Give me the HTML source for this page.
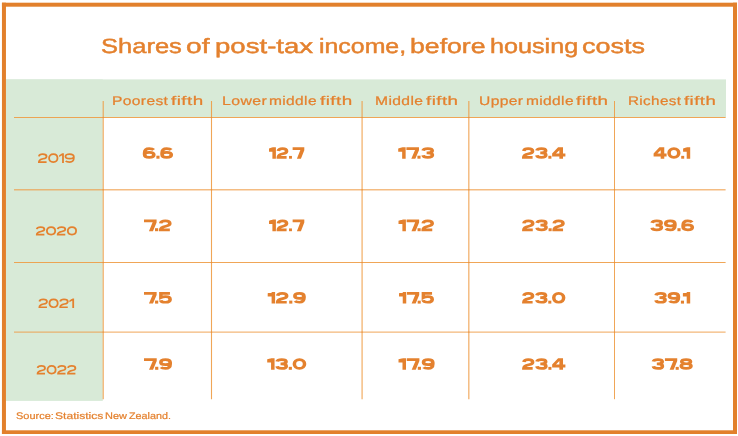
<!DOCTYPE html>
<html><head><meta charset="utf-8"><style>
html,body{margin:0;padding:0;background:#fff;width:738px;height:436px;overflow:hidden}
body{position:relative;font-family:"Liberation Sans",sans-serif}
.t{position:absolute;white-space:nowrap;color:#E4812E;transform-origin:0 0;will-change:transform;text-rendering:geometricPrecision}
.h{color:transparent}
</style></head><body>
<svg width="738" height="436" viewBox="0 0 738 436" style="position:absolute;left:0;top:0">
<rect x="6" y="79.4" width="720" height="38" fill="#D8EAD7"/>
<rect x="6" y="79.4" width="96.8" height="321.5" fill="#D8EAD7"/>
<line x1="14" y1="117.5" x2="725.6" y2="117.5" stroke="#EE9C45" stroke-width="1" stroke-opacity="0.900"/><line x1="14" y1="189.75" x2="725.6" y2="189.75" stroke="#EE9C45" stroke-width="1.5" stroke-opacity="0.675"/><line x1="14" y1="262.5" x2="725.6" y2="262.5" stroke="#EE9C45" stroke-width="1" stroke-opacity="0.900"/><line x1="14" y1="332.1" x2="725.6" y2="332.1" stroke="#EE9C45" stroke-width="1.4" stroke-opacity="0.720"/><line x1="103.2" y1="101" x2="103.2" y2="399.2" stroke="#EE9C45" stroke-width="1.1" stroke-opacity="0.900"/><line x1="211.5" y1="101" x2="211.5" y2="399.2" stroke="#EE9C45" stroke-width="1.1" stroke-opacity="0.900"/><line x1="362.1" y1="101" x2="362.1" y2="399.2" stroke="#EE9C45" stroke-width="1.4" stroke-opacity="0.720"/><line x1="468.8" y1="101" x2="468.8" y2="399.2" stroke="#EE9C45" stroke-width="1.4" stroke-opacity="0.720"/><line x1="614.5" y1="101" x2="614.5" y2="399.2" stroke="#EE9C45" stroke-width="1" stroke-opacity="0.900"/><rect x="102.60" y="116.90" width="1.2" height="1.2" fill="#E4812E" fill-opacity="0.45"/><rect x="210.90" y="116.90" width="1.2" height="1.2" fill="#E4812E" fill-opacity="0.45"/><rect x="361.50" y="116.90" width="1.2" height="1.2" fill="#E4812E" fill-opacity="0.45"/><rect x="468.20" y="116.90" width="1.2" height="1.2" fill="#E4812E" fill-opacity="0.45"/><rect x="613.90" y="116.90" width="1.2" height="1.2" fill="#E4812E" fill-opacity="0.45"/><rect x="102.60" y="189.15" width="1.2" height="1.2" fill="#E4812E" fill-opacity="0.45"/><rect x="210.90" y="189.15" width="1.2" height="1.2" fill="#E4812E" fill-opacity="0.45"/><rect x="361.50" y="189.15" width="1.2" height="1.2" fill="#E4812E" fill-opacity="0.45"/><rect x="468.20" y="189.15" width="1.2" height="1.2" fill="#E4812E" fill-opacity="0.45"/><rect x="613.90" y="189.15" width="1.2" height="1.2" fill="#E4812E" fill-opacity="0.45"/><rect x="102.60" y="261.90" width="1.2" height="1.2" fill="#E4812E" fill-opacity="0.45"/><rect x="210.90" y="261.90" width="1.2" height="1.2" fill="#E4812E" fill-opacity="0.45"/><rect x="361.50" y="261.90" width="1.2" height="1.2" fill="#E4812E" fill-opacity="0.45"/><rect x="468.20" y="261.90" width="1.2" height="1.2" fill="#E4812E" fill-opacity="0.45"/><rect x="613.90" y="261.90" width="1.2" height="1.2" fill="#E4812E" fill-opacity="0.45"/><rect x="102.60" y="331.50" width="1.2" height="1.2" fill="#E4812E" fill-opacity="0.45"/><rect x="210.90" y="331.50" width="1.2" height="1.2" fill="#E4812E" fill-opacity="0.45"/><rect x="361.50" y="331.50" width="1.2" height="1.2" fill="#E4812E" fill-opacity="0.45"/><rect x="468.20" y="331.50" width="1.2" height="1.2" fill="#E4812E" fill-opacity="0.45"/><rect x="613.90" y="331.50" width="1.2" height="1.2" fill="#E4812E" fill-opacity="0.45"/>
</svg>
<span class="t" style="left:100.61px;top:37.20px;font-size:20.6px;line-height:20.6px;font-weight:400;-webkit-text-stroke:0.45px #E4812E;transform:scaleX(1.2393)">Shares</span><span class="t" style="left:186.28px;top:37.20px;font-size:20.6px;line-height:20.6px;font-weight:400;-webkit-text-stroke:0.45px #E4812E;transform:scaleX(1.3679)">of</span><span class="t" style="left:215.16px;top:37.20px;font-size:20.6px;line-height:20.6px;font-weight:400;-webkit-text-stroke:0.45px #E4812E;transform:scaleX(1.3392)">post-tax</span><span class="t" style="left:318.67px;top:37.20px;font-size:20.6px;line-height:20.6px;font-weight:400;-webkit-text-stroke:0.45px #E4812E;transform:scaleX(1.2077)">income,</span><span class="t" style="left:409.88px;top:37.20px;font-size:20.6px;line-height:20.6px;font-weight:400;-webkit-text-stroke:0.45px #E4812E;transform:scaleX(1.2938)">before</span><span class="t" style="left:489.62px;top:37.20px;font-size:20.6px;line-height:20.6px;font-weight:400;-webkit-text-stroke:0.45px #E4812E;transform:scaleX(1.2230)">housing</span><span class="t" style="left:582.49px;top:37.20px;font-size:20.6px;line-height:20.6px;font-weight:400;-webkit-text-stroke:0.45px #E4812E;transform:scaleX(1.3104)">costs</span><span class="t" style="left:111.81px;top:94.56px;font-size:12.5px;line-height:12.5px;font-weight:400;letter-spacing:0.3px;-webkit-text-stroke:0.22px #E4812E;transform:scaleX(1.2457)">Poorest</span><span class="t" style="left:171.41px;top:94.56px;font-size:12.5px;line-height:12.5px;font-weight:400;letter-spacing:0.3px;-webkit-text-stroke:0.22px #E4812E;transform:scaleX(1.5061)">fifth</span><span class="t" style="left:221.59px;top:94.56px;font-size:12.5px;line-height:12.5px;font-weight:400;letter-spacing:0.3px;-webkit-text-stroke:0.22px #E4812E;transform:scaleX(1.2685)">Lower</span><span class="t" style="left:268.97px;top:94.56px;font-size:12.5px;line-height:12.5px;font-weight:400;letter-spacing:0.3px;-webkit-text-stroke:0.22px #E4812E;transform:scaleX(1.2411)">middle</span><span class="t" style="left:319.61px;top:94.56px;font-size:12.5px;line-height:12.5px;font-weight:400;letter-spacing:0.3px;-webkit-text-stroke:0.22px #E4812E;transform:scaleX(1.5110)">fifth</span><span class="t" style="left:374.61px;top:94.56px;font-size:12.5px;line-height:12.5px;font-weight:400;letter-spacing:0.3px;-webkit-text-stroke:0.22px #E4812E;transform:scaleX(1.2506)">Middle</span><span class="t" style="left:425.51px;top:94.56px;font-size:12.5px;line-height:12.5px;font-weight:400;letter-spacing:0.3px;-webkit-text-stroke:0.22px #E4812E;transform:scaleX(1.5012)">fifth</span><span class="t" style="left:478.56px;top:94.56px;font-size:12.5px;line-height:12.5px;font-weight:400;letter-spacing:0.3px;-webkit-text-stroke:0.22px #E4812E;transform:scaleX(1.2492)">Upper</span><span class="t" style="left:525.97px;top:94.56px;font-size:12.5px;line-height:12.5px;font-weight:400;letter-spacing:0.3px;-webkit-text-stroke:0.22px #E4812E;transform:scaleX(1.2411)">middle</span><span class="t" style="left:576.21px;top:94.56px;font-size:12.5px;line-height:12.5px;font-weight:400;letter-spacing:0.3px;-webkit-text-stroke:0.22px #E4812E;transform:scaleX(1.5012)">fifth</span><span class="t" style="left:627.64px;top:94.56px;font-size:12.5px;line-height:12.5px;font-weight:400;letter-spacing:0.3px;-webkit-text-stroke:0.22px #E4812E;transform:scaleX(1.2180)">Richest</span><span class="t" style="left:684.32px;top:94.56px;font-size:12.5px;line-height:12.5px;font-weight:400;letter-spacing:0.3px;-webkit-text-stroke:0.22px #E4812E;transform:scaleX(1.4864)">fifth</span><span class="t" style="left:16.04px;top:412.25px;font-size:9.5px;line-height:9.5px;font-weight:400;-webkit-text-stroke:0.2px #E4812E;transform:scaleX(1.1547)">Source:</span><span class="t" style="left:54.97px;top:412.25px;font-size:9.5px;line-height:9.5px;font-weight:400;-webkit-text-stroke:0.2px #E4812E;transform:scaleX(1.2718)">Statistics</span><span class="t" style="left:105.38px;top:412.25px;font-size:9.5px;line-height:9.5px;font-weight:400;-webkit-text-stroke:0.2px #E4812E;transform:scaleX(1.1538)">New</span><span class="t" style="left:129.41px;top:412.25px;font-size:9.5px;line-height:9.5px;font-weight:400;-webkit-text-stroke:0.2px #E4812E;transform:scaleX(1.1337)">Zealand.</span>
<svg width="738" height="436" viewBox="0 0 738 436" style="position:absolute;left:0;top:0" aria-hidden="true"><g transform="translate(38.000,153.300) scale(1.1250,1)"><path d="M0.800,2.960 C1.073,1.360 2.507,0.800 4.214,0.800 C6.262,0.800 7.627,1.520 7.627,3.120 C7.627,4.560 6.398,5.120 4.555,5.520 C2.302,6.000 0.800,6.880 0.800,8.800 L7.627,8.800" fill="none" stroke="#E4812E" stroke-width="1.6" stroke-linejoin="miter" stroke-miterlimit="3" stroke-linecap="butt"/></g><g transform="translate(48.194,153.300) scale(1.1250,1)"><path d="M4.531,0.800 L4.531,0.800 C6.769,0.800 8.262,2.400 8.262,4.800 L8.262,4.800 C8.262,7.200 6.769,8.800 4.531,8.800 L4.531,8.800 C2.292,8.800 0.800,7.200 0.800,4.800 L0.800,4.800 C0.800,2.400 2.292,0.800 4.531,0.800 Z" fill="none" stroke="#E4812E" stroke-width="1.6" stroke-linejoin="miter" stroke-miterlimit="3" stroke-linecap="butt"/></g><path d="M62.094,153.300 L63.894,153.300 L63.894,162.900 L62.094,162.900 Z M59.102,155.220 L62.194,153.300 L62.194,155.140 L59.102,157.060 Z" fill="#E4812E"/><g transform="translate(64.608,153.300) scale(1.1250,1)"><path d="M0.947,7.680 C1.685,8.560 3.011,8.800 4.486,8.800 C6.918,8.800 8.171,7.600 8.171,4.800 L8.171,3.520 M8.171,3.520 C8.171,1.600 6.697,0.800 4.486,0.800 C2.274,0.800 0.800,1.600 0.800,3.120 C0.800,4.640 2.274,5.360 4.486,5.360 C6.697,5.360 8.171,4.640 8.171,3.200" fill="none" stroke="#E4812E" stroke-width="1.6" stroke-linejoin="miter" stroke-miterlimit="3" stroke-linecap="butt"/></g><g transform="translate(35.900,226.300) scale(1.1250,1)"><path d="M0.800,2.825 C1.070,1.325 2.487,0.800 4.174,0.800 C6.198,0.800 7.548,1.475 7.548,2.975 C7.548,4.325 6.333,4.850 4.511,5.225 C2.285,5.675 0.800,6.500 0.800,8.300 L7.548,8.300" fill="none" stroke="#E4812E" stroke-width="1.6" stroke-linejoin="miter" stroke-miterlimit="3" stroke-linecap="butt"/></g><g transform="translate(45.998,226.300) scale(1.1250,1)"><path d="M4.488,0.800 L4.488,0.800 C6.701,0.800 8.176,2.300 8.176,4.550 L8.176,4.550 C8.176,6.800 6.701,8.300 4.488,8.300 L4.488,8.300 C2.275,8.300 0.800,6.800 0.800,4.550 L0.800,4.550 C0.800,2.300 2.275,0.800 4.488,0.800 Z" fill="none" stroke="#E4812E" stroke-width="1.6" stroke-linejoin="miter" stroke-miterlimit="3" stroke-linecap="butt"/></g><g transform="translate(56.803,226.300) scale(1.1250,1)"><path d="M0.800,2.825 C1.070,1.325 2.487,0.800 4.174,0.800 C6.198,0.800 7.548,1.475 7.548,2.975 C7.548,4.325 6.333,4.850 4.511,5.225 C2.285,5.675 0.800,6.500 0.800,8.300 L7.548,8.300" fill="none" stroke="#E4812E" stroke-width="1.6" stroke-linejoin="miter" stroke-miterlimit="3" stroke-linecap="butt"/></g><g transform="translate(66.902,226.300) scale(1.1250,1)"><path d="M4.488,0.800 L4.488,0.800 C6.701,0.800 8.176,2.300 8.176,4.550 L8.176,4.550 C8.176,6.800 6.701,8.300 4.488,8.300 L4.488,8.300 C2.275,8.300 0.800,6.800 0.800,4.550 L0.800,4.550 C0.800,2.300 2.275,0.800 4.488,0.800 Z" fill="none" stroke="#E4812E" stroke-width="1.6" stroke-linejoin="miter" stroke-miterlimit="3" stroke-linecap="butt"/></g><g transform="translate(38.500,298.600) scale(1.1250,1)"><path d="M0.800,2.906 C1.069,1.346 2.478,0.800 4.157,0.800 C6.171,0.800 7.513,1.502 7.513,3.062 C7.513,4.466 6.305,5.012 4.492,5.402 C2.277,5.870 0.800,6.728 0.800,8.600 L7.513,8.600" fill="none" stroke="#E4812E" stroke-width="1.6" stroke-linejoin="miter" stroke-miterlimit="3" stroke-linecap="butt"/></g><g transform="translate(48.556,298.600) scale(1.1250,1)"><path d="M4.470,0.800 L4.470,0.800 C6.671,0.800 8.139,2.360 8.139,4.700 L8.139,4.700 C8.139,7.040 6.671,8.600 4.470,8.600 L4.470,8.600 C2.268,8.600 0.800,7.040 0.800,4.700 L0.800,4.700 C0.800,2.360 2.268,0.800 4.470,0.800 Z" fill="none" stroke="#E4812E" stroke-width="1.6" stroke-linejoin="miter" stroke-miterlimit="3" stroke-linecap="butt"/></g><g transform="translate(59.317,298.600) scale(1.1250,1)"><path d="M0.800,2.906 C1.069,1.346 2.478,0.800 4.157,0.800 C6.171,0.800 7.513,1.502 7.513,3.062 C7.513,4.466 6.305,5.012 4.492,5.402 C2.277,5.870 0.800,6.728 0.800,8.600 L7.513,8.600" fill="none" stroke="#E4812E" stroke-width="1.6" stroke-linejoin="miter" stroke-miterlimit="3" stroke-linecap="butt"/></g><path d="M72.300,298.600 L74.100,298.600 L74.100,308.000 L72.300,308.000 Z M69.373,300.480 L72.400,298.600 L72.400,300.440 L69.373,302.320 Z" fill="#E4812E"/><g transform="translate(36.700,365.100) scale(1.1250,1)"><path d="M0.800,2.879 C1.063,1.339 2.446,0.800 4.092,0.800 C6.067,0.800 7.384,1.493 7.384,3.033 C7.384,4.419 6.199,4.958 4.421,5.343 C2.248,5.805 0.800,6.652 0.800,8.500 L7.384,8.500" fill="none" stroke="#E4812E" stroke-width="1.6" stroke-linejoin="miter" stroke-miterlimit="3" stroke-linecap="butt"/></g><g transform="translate(46.600,365.100) scale(1.1250,1)"><path d="M4.400,0.800 L4.400,0.800 C6.560,0.800 8.000,2.340 8.000,4.650 L8.000,4.650 C8.000,6.960 6.560,8.500 4.400,8.500 L4.400,8.500 C2.240,8.500 0.800,6.960 0.800,4.650 L0.800,4.650 C0.800,2.340 2.240,0.800 4.400,0.800 Z" fill="none" stroke="#E4812E" stroke-width="1.6" stroke-linejoin="miter" stroke-miterlimit="3" stroke-linecap="butt"/></g><g transform="translate(57.193,365.100) scale(1.1250,1)"><path d="M0.800,2.879 C1.063,1.339 2.446,0.800 4.092,0.800 C6.067,0.800 7.384,1.493 7.384,3.033 C7.384,4.419 6.199,4.958 4.421,5.343 C2.248,5.805 0.800,6.652 0.800,8.500 L7.384,8.500" fill="none" stroke="#E4812E" stroke-width="1.6" stroke-linejoin="miter" stroke-miterlimit="3" stroke-linecap="butt"/></g><g transform="translate(67.093,365.100) scale(1.1250,1)"><path d="M0.800,2.879 C1.063,1.339 2.446,0.800 4.092,0.800 C6.067,0.800 7.384,1.493 7.384,3.033 C7.384,4.419 6.199,4.958 4.421,5.343 C2.248,5.805 0.800,6.652 0.800,8.500 L7.384,8.500" fill="none" stroke="#E4812E" stroke-width="1.6" stroke-linejoin="miter" stroke-miterlimit="3" stroke-linecap="butt"/></g><g transform="translate(142.800,147.300) scale(1.2963,1)"><path d="M8.408,2.568 C7.687,1.611 6.391,1.350 4.951,1.350 C2.574,1.350 1.350,2.655 1.350,5.700 L1.350,7.092 M1.350,7.092 C1.350,9.180 2.790,10.050 4.951,10.050 C7.111,10.050 8.552,9.180 8.552,7.527 C8.552,5.874 7.111,5.091 4.951,5.091 C2.790,5.091 1.350,5.874 1.350,7.440" fill="none" stroke="#E4812E" stroke-width="2.7" stroke-linejoin="miter" stroke-miterlimit="3" stroke-linecap="butt"/></g><rect x="156.372" y="155.702" width="3.156" height="2.998" fill="#E4812E"/><g transform="translate(160.265,147.300) scale(1.2963,1)"><path d="M8.408,2.568 C7.687,1.611 6.391,1.350 4.951,1.350 C2.574,1.350 1.350,2.655 1.350,5.700 L1.350,7.092 M1.350,7.092 C1.350,9.180 2.790,10.050 4.951,10.050 C7.111,10.050 8.552,9.180 8.552,7.527 C8.552,5.874 7.111,5.091 4.951,5.091 C2.790,5.091 1.350,5.874 1.350,7.440" fill="none" stroke="#E4812E" stroke-width="2.7" stroke-linejoin="miter" stroke-miterlimit="3" stroke-linecap="butt"/></g><path d="M272.404,147.300 L275.904,147.300 L275.904,158.700 L272.404,158.700 Z M269.000,148.440 L272.604,147.300 L272.604,151.404 L269.000,151.632 Z" fill="#E4812E"/><g transform="translate(276.585,147.300) scale(1.2963,1)"><path d="M1.350,3.699 C1.605,1.959 2.944,1.350 4.539,1.350 C6.452,1.350 7.727,2.133 7.727,3.873 C7.727,5.439 6.579,6.048 4.857,6.483 C2.753,7.005 1.350,7.962 1.350,10.050 L7.727,10.050" fill="none" stroke="#E4812E" stroke-width="2.7" stroke-linejoin="miter" stroke-miterlimit="3" stroke-linecap="butt"/></g><rect x="289.033" y="155.929" width="2.917" height="2.771" fill="#E4812E"/><path d="M292.631,147.300 L304.300,147.300 L304.300,150.200 L300.916,158.700 L296.891,158.700 L300.355,150.000 L292.631,150.000 Z" fill="#E4812E"/><path d="M402.152,147.300 L405.652,147.300 L405.652,158.700 L402.152,158.700 Z M398.200,148.440 L402.352,147.300 L402.352,151.404 L398.200,151.632 Z" fill="#E4812E"/><path d="M406.387,147.300 L418.981,147.300 L418.981,150.200 L415.329,158.700 L411.304,158.700 L415.042,150.000 L406.387,150.000 Z" fill="#E4812E"/><rect x="417.407" y="155.709" width="3.149" height="2.991" fill="#E4812E"/><g transform="translate(421.290,147.300) scale(1.2963,1)"><path d="M1.350,3.264 C1.713,1.785 3.165,1.350 4.979,1.350 C7.157,1.350 8.464,1.959 8.464,3.438 C8.464,4.917 7.157,5.526 4.979,5.526 L4.108,5.526 M4.979,5.526 C7.302,5.526 8.609,6.222 8.609,7.788 C8.609,9.354 7.157,10.050 4.979,10.050 C3.092,10.050 1.640,9.528 1.350,7.962" fill="none" stroke="#E4812E" stroke-width="2.7" stroke-linejoin="miter" stroke-miterlimit="3" stroke-linecap="butt"/></g><g transform="translate(522.000,147.300) scale(1.2963,1)"><path d="M1.350,3.699 C1.623,1.959 3.058,1.350 4.766,1.350 C6.816,1.350 8.182,2.133 8.182,3.873 C8.182,5.439 6.952,6.048 5.108,6.483 C2.853,7.005 1.350,7.962 1.350,10.050 L8.182,10.050" fill="none" stroke="#E4812E" stroke-width="2.7" stroke-linejoin="miter" stroke-miterlimit="3" stroke-linecap="butt"/></g><g transform="translate(535.071,147.300) scale(1.2963,1)"><path d="M1.350,3.264 C1.699,1.785 3.097,1.350 4.845,1.350 C6.942,1.350 8.200,1.959 8.200,3.438 C8.200,4.917 6.942,5.526 4.845,5.526 L4.006,5.526 M4.845,5.526 C7.081,5.526 8.340,6.222 8.340,7.788 C8.340,9.354 6.942,10.050 4.845,10.050 C3.027,10.050 1.630,9.528 1.350,7.962" fill="none" stroke="#E4812E" stroke-width="2.7" stroke-linejoin="miter" stroke-miterlimit="3" stroke-linecap="butt"/></g><rect x="548.346" y="155.790" width="3.064" height="2.910" fill="#E4812E"/><path fill-rule="evenodd" d="M558.099,147.300 L563.010,147.300 L563.010,153.570 L565.400,153.570 L565.400,156.420 L563.010,156.420 L563.010,158.700 L559.360,158.700 L559.360,156.420 L552.125,156.420 L552.125,153.570 Z M559.360,150.150 L559.360,153.570 L555.975,153.570 Z" fill="#E4812E"/><path fill-rule="evenodd" d="M659.450,147.300 L664.260,147.300 L664.260,153.570 L666.600,153.570 L666.600,156.420 L664.260,156.420 L664.260,158.700 L660.685,158.700 L660.685,156.420 L653.600,156.420 L653.600,153.570 Z M660.685,150.150 L660.685,153.570 L657.370,153.570 Z" fill="#E4812E"/><g transform="translate(667.300,147.300) scale(1.2963,1)"><path d="M5.091,1.350 L5.091,1.350 C7.336,1.350 8.833,3.090 8.833,5.700 L8.833,5.700 C8.833,8.310 7.336,10.050 5.091,10.050 L5.091,10.050 C2.847,10.050 1.350,8.310 1.350,5.700 L1.350,5.700 C1.350,3.090 2.847,1.350 5.091,1.350 Z" fill="none" stroke="#E4812E" stroke-width="2.7" stroke-linejoin="miter" stroke-miterlimit="3" stroke-linecap="butt"/></g><rect x="681.200" y="155.850" width="3.000" height="2.850" fill="#E4812E"/><path d="M686.700,147.300 L690.200,147.300 L690.200,158.700 L686.700,158.700 Z M683.100,148.440 L686.900,147.300 L686.900,151.404 L683.100,151.632 Z" fill="#E4812E"/><path d="M144.000,219.600 L156.593,219.600 L156.593,222.500 L152.941,231.200 L148.916,231.200 L152.652,222.300 L144.000,222.300 Z" fill="#E4812E"/><rect x="155.019" y="228.209" width="3.148" height="2.991" fill="#E4812E"/><g transform="translate(158.902,219.600) scale(1.2963,1)"><path d="M1.350,3.753 C1.634,1.973 3.124,1.350 4.898,1.350 C7.027,1.350 8.446,2.151 8.446,3.931 C8.446,5.533 7.168,6.156 5.253,6.601 C2.911,7.135 1.350,8.114 1.350,10.250 L8.446,10.250" fill="none" stroke="#E4812E" stroke-width="2.7" stroke-linejoin="miter" stroke-miterlimit="3" stroke-linecap="butt"/></g><path d="M272.404,219.600 L275.904,219.600 L275.904,231.200 L272.404,231.200 Z M269.000,220.760 L272.604,219.600 L272.604,223.776 L269.000,224.008 Z" fill="#E4812E"/><g transform="translate(276.585,219.600) scale(1.2963,1)"><path d="M1.350,3.753 C1.605,1.973 2.944,1.350 4.539,1.350 C6.452,1.350 7.727,2.151 7.727,3.931 C7.727,5.533 6.579,6.156 4.857,6.601 C2.753,7.135 1.350,8.114 1.350,10.250 L7.727,10.250" fill="none" stroke="#E4812E" stroke-width="2.7" stroke-linejoin="miter" stroke-miterlimit="3" stroke-linecap="butt"/></g><rect x="289.033" y="228.429" width="2.917" height="2.771" fill="#E4812E"/><path d="M292.631,219.600 L304.300,219.600 L304.300,222.500 L300.916,231.200 L296.891,231.200 L300.353,222.300 L292.631,222.300 Z" fill="#E4812E"/><path d="M402.391,219.600 L405.891,219.600 L405.891,231.200 L402.391,231.200 Z M398.500,220.760 L402.591,219.600 L402.591,223.776 L398.500,224.008 Z" fill="#E4812E"/><path d="M406.620,219.600 L419.113,219.600 L419.113,222.500 L415.490,231.200 L411.465,231.200 L415.171,222.300 L406.620,222.300 Z" fill="#E4812E"/><rect x="417.551" y="228.233" width="3.123" height="2.967" fill="#E4812E"/><g transform="translate(421.403,219.600) scale(1.2963,1)"><path d="M1.350,3.753 C1.631,1.973 3.104,1.350 4.859,1.350 C6.964,1.350 8.368,2.151 8.368,3.931 C8.368,5.533 7.104,6.156 5.210,6.601 C2.894,7.135 1.350,8.114 1.350,10.250 L8.368,10.250" fill="none" stroke="#E4812E" stroke-width="2.7" stroke-linejoin="miter" stroke-miterlimit="3" stroke-linecap="butt"/></g><g transform="translate(522.100,219.600) scale(1.2963,1)"><path d="M1.350,3.753 C1.625,1.973 3.070,1.350 4.791,1.350 C6.855,1.350 8.231,2.151 8.231,3.931 C8.231,5.533 6.993,6.156 5.135,6.601 C2.864,7.135 1.350,8.114 1.350,10.250 L8.231,10.250" fill="none" stroke="#E4812E" stroke-width="2.7" stroke-linejoin="miter" stroke-miterlimit="3" stroke-linecap="butt"/></g><g transform="translate(535.238,219.600) scale(1.2963,1)"><path d="M1.350,3.308 C1.702,1.795 3.110,1.350 4.870,1.350 C6.982,1.350 8.249,1.973 8.249,3.486 C8.249,4.999 6.982,5.622 4.870,5.622 L4.025,5.622 M4.870,5.622 C7.122,5.622 8.389,6.334 8.389,7.936 C8.389,9.538 6.982,10.250 4.870,10.250 C3.039,10.250 1.632,9.716 1.350,8.114" fill="none" stroke="#E4812E" stroke-width="2.7" stroke-linejoin="miter" stroke-miterlimit="3" stroke-linecap="butt"/></g><rect x="548.582" y="228.275" width="3.079" height="2.925" fill="#E4812E"/><g transform="translate(552.380,219.600) scale(1.2963,1)"><path d="M1.350,3.753 C1.625,1.973 3.070,1.350 4.791,1.350 C6.855,1.350 8.231,2.151 8.231,3.931 C8.231,5.533 6.993,6.156 5.135,6.601 C2.864,7.135 1.350,8.114 1.350,10.250 L8.231,10.250" fill="none" stroke="#E4812E" stroke-width="2.7" stroke-linejoin="miter" stroke-miterlimit="3" stroke-linecap="butt"/></g><g transform="translate(650.300,219.600) scale(1.2963,1)"><path d="M1.350,3.308 C1.712,1.795 3.161,1.350 4.971,1.350 C7.144,1.350 8.448,1.973 8.448,3.486 C8.448,4.999 7.144,5.622 4.971,5.622 L4.102,5.622 M4.971,5.622 C7.289,5.622 8.593,6.334 8.593,7.936 C8.593,9.538 7.144,10.250 4.971,10.250 C3.088,10.250 1.640,9.716 1.350,8.114" fill="none" stroke="#E4812E" stroke-width="2.7" stroke-linejoin="miter" stroke-miterlimit="3" stroke-linecap="butt"/></g><g transform="translate(663.922,219.600) scale(1.2963,1)"><path d="M1.493,9.004 C2.209,9.983 3.499,10.250 4.931,10.250 C7.294,10.250 8.512,8.915 8.512,5.800 L8.512,4.376 M8.512,4.376 C8.512,2.240 7.079,1.350 4.931,1.350 C2.782,1.350 1.350,2.240 1.350,3.931 C1.350,5.622 2.782,6.423 4.931,6.423 C7.079,6.423 8.512,5.622 8.512,4.020" fill="none" stroke="#E4812E" stroke-width="2.7" stroke-linejoin="miter" stroke-miterlimit="3" stroke-linecap="butt"/></g><rect x="677.439" y="228.214" width="3.144" height="2.986" fill="#E4812E"/><g transform="translate(681.316,219.600) scale(1.2963,1)"><path d="M8.369,2.596 C7.652,1.617 6.363,1.350 4.931,1.350 C2.567,1.350 1.350,2.685 1.350,5.800 L1.350,7.224 M1.350,7.224 C1.350,9.360 2.782,10.250 4.931,10.250 C7.079,10.250 8.512,9.360 8.512,7.669 C8.512,5.978 7.079,5.177 4.931,5.177 C2.782,5.177 1.350,5.978 1.350,7.580" fill="none" stroke="#E4812E" stroke-width="2.7" stroke-linejoin="miter" stroke-miterlimit="3" stroke-linecap="butt"/></g><path d="M144.000,292.100 L156.634,292.100 L156.634,295.000 L152.970,303.600 L148.945,303.600 L152.694,294.800 L144.000,294.800 Z" fill="#E4812E"/><rect x="155.055" y="300.599" width="3.158" height="3.001" fill="#E4812E"/><g transform="translate(158.950,292.100) scale(1.2963,1)"><path d="M8.494,1.350 L1.496,1.350 L1.496,5.486 C2.443,4.870 3.683,4.606 5.141,4.606 C7.328,4.606 8.640,5.574 8.640,7.334 C8.640,9.270 7.182,10.150 4.995,10.150 C3.100,10.150 1.642,9.622 1.350,8.038" fill="none" stroke="#E4812E" stroke-width="2.7" stroke-linejoin="miter" stroke-miterlimit="3" stroke-linecap="butt"/></g><path d="M271.611,292.100 L275.111,292.100 L275.111,303.600 L271.611,303.600 Z M267.700,293.250 L271.811,292.100 L271.811,296.240 L267.700,296.470 Z" fill="#E4812E"/><g transform="translate(275.842,292.100) scale(1.2963,1)"><path d="M1.350,3.726 C1.632,1.966 3.111,1.350 4.872,1.350 C6.985,1.350 8.393,2.142 8.393,3.902 C8.393,5.486 7.126,6.102 5.224,6.542 C2.900,7.070 1.350,8.038 1.350,10.150 L8.393,10.150" fill="none" stroke="#E4812E" stroke-width="2.7" stroke-linejoin="miter" stroke-miterlimit="3" stroke-linecap="butt"/></g><rect x="289.203" y="300.625" width="3.132" height="2.975" fill="#E4812E"/><g transform="translate(293.065,292.100) scale(1.2963,1)"><path d="M1.492,8.918 C2.205,9.886 3.487,10.150 4.912,10.150 C7.263,10.150 8.474,8.830 8.474,5.750 L8.474,4.342 M8.474,4.342 C8.474,2.230 7.049,1.350 4.912,1.350 C2.775,1.350 1.350,2.230 1.350,3.902 C1.350,5.574 2.775,6.366 4.912,6.366 C7.049,6.366 8.474,5.574 8.474,3.990" fill="none" stroke="#E4812E" stroke-width="2.7" stroke-linejoin="miter" stroke-miterlimit="3" stroke-linecap="butt"/></g><path d="M402.745,292.100 L406.245,292.100 L406.245,303.600 L402.745,303.600 Z M399.000,293.250 L402.945,292.100 L402.945,296.240 L399.000,296.470 Z" fill="#E4812E"/><path d="M406.959,292.100 L419.204,292.100 L419.204,295.000 L415.653,303.600 L411.628,303.600 L415.262,294.800 L406.959,294.800 Z" fill="#E4812E"/><rect x="417.673" y="300.692" width="3.061" height="2.908" fill="#E4812E"/><g transform="translate(421.449,292.100) scale(1.2963,1)"><path d="M8.193,1.350 L1.490,1.350 L1.490,5.486 C2.397,4.870 3.584,4.606 4.981,4.606 C7.075,4.606 8.332,5.574 8.332,7.334 C8.332,9.270 6.936,10.150 4.841,10.150 C3.026,10.150 1.629,9.622 1.350,8.038" fill="none" stroke="#E4812E" stroke-width="2.7" stroke-linejoin="miter" stroke-miterlimit="3" stroke-linecap="butt"/></g><g transform="translate(522.100,292.100) scale(1.2963,1)"><path d="M1.350,3.726 C1.621,1.966 3.041,1.350 4.733,1.350 C6.762,1.350 8.115,2.142 8.115,3.902 C8.115,5.486 6.898,6.102 5.071,6.542 C2.838,7.070 1.350,8.038 1.350,10.150 L8.115,10.150" fill="none" stroke="#E4812E" stroke-width="2.7" stroke-linejoin="miter" stroke-miterlimit="3" stroke-linecap="butt"/></g><g transform="translate(535.080,292.100) scale(1.2963,1)"><path d="M1.350,3.286 C1.696,1.790 3.080,1.350 4.811,1.350 C6.888,1.350 8.133,1.966 8.133,3.462 C8.133,4.958 6.888,5.574 4.811,5.574 L3.980,5.574 M4.811,5.574 C7.026,5.574 8.272,6.278 8.272,7.862 C8.272,9.446 6.888,10.150 4.811,10.150 C3.011,10.150 1.627,9.622 1.350,8.038" fill="none" stroke="#E4812E" stroke-width="2.7" stroke-linejoin="miter" stroke-miterlimit="3" stroke-linecap="butt"/></g><rect x="548.263" y="300.710" width="3.042" height="2.890" fill="#E4812E"/><g transform="translate(552.015,292.100) scale(1.2963,1)"><path d="M5.163,1.350 L5.163,1.350 C7.451,1.350 8.976,3.110 8.976,5.750 L8.976,5.750 C8.976,8.390 7.451,10.150 5.163,10.150 L5.163,10.150 C2.875,10.150 1.350,8.390 1.350,5.750 L1.350,5.750 C1.350,3.110 2.875,1.350 5.163,1.350 Z" fill="none" stroke="#E4812E" stroke-width="2.7" stroke-linejoin="miter" stroke-miterlimit="3" stroke-linecap="butt"/></g><g transform="translate(654.200,292.100) scale(1.2963,1)"><path d="M1.350,3.286 C1.704,1.790 3.122,1.350 4.894,1.350 C7.020,1.350 8.296,1.966 8.296,3.462 C8.296,4.958 7.020,5.574 4.894,5.574 L4.043,5.574 M4.894,5.574 C7.162,5.574 8.438,6.278 8.438,7.862 C8.438,9.446 7.020,10.150 4.894,10.150 C3.051,10.150 1.634,9.622 1.350,8.038" fill="none" stroke="#E4812E" stroke-width="2.7" stroke-linejoin="miter" stroke-miterlimit="3" stroke-linecap="butt"/></g><g transform="translate(667.610,292.100) scale(1.2963,1)"><path d="M1.490,8.918 C2.191,9.886 3.452,10.150 4.854,10.150 C7.167,10.150 8.358,8.830 8.358,5.750 L8.358,4.342 M8.358,4.342 C8.358,2.230 6.956,1.350 4.854,1.350 C2.752,1.350 1.350,2.230 1.350,3.902 C1.350,5.574 2.752,6.366 4.854,6.366 C6.956,6.366 8.358,5.574 8.358,3.990" fill="none" stroke="#E4812E" stroke-width="2.7" stroke-linejoin="miter" stroke-miterlimit="3" stroke-linecap="butt"/></g><rect x="680.916" y="300.660" width="3.095" height="2.940" fill="#E4812E"/><path d="M686.700,292.100 L690.200,292.100 L690.200,303.600 L686.700,303.600 Z M682.876,293.250 L686.900,292.100 L686.900,296.240 L682.876,296.470 Z" fill="#E4812E"/><path d="M144.000,358.200 L156.727,358.200 L156.727,361.100 L153.036,369.800 L149.011,369.800 L152.787,360.900 L144.000,360.900 Z" fill="#E4812E"/><rect x="155.136" y="366.777" width="3.182" height="3.023" fill="#E4812E"/><g transform="translate(159.061,358.200) scale(1.2963,1)"><path d="M1.496,9.004 C2.224,9.983 3.535,10.250 4.991,10.250 C7.394,10.250 8.632,8.915 8.632,5.800 L8.632,4.376 M8.632,4.376 C8.632,2.240 7.175,1.350 4.991,1.350 C2.806,1.350 1.350,2.240 1.350,3.931 C1.350,5.622 2.806,6.423 4.991,6.423 C7.175,6.423 8.632,5.622 8.632,4.020" fill="none" stroke="#E4812E" stroke-width="2.7" stroke-linejoin="miter" stroke-miterlimit="3" stroke-linecap="butt"/></g><path d="M271.064,358.200 L274.564,358.200 L274.564,369.800 L271.064,369.800 Z M267.200,359.360 L271.264,358.200 L271.264,362.376 L267.200,362.608 Z" fill="#E4812E"/><g transform="translate(275.290,358.200) scale(1.2963,1)"><path d="M1.350,3.308 C1.707,1.795 3.135,1.350 4.920,1.350 C7.063,1.350 8.348,1.973 8.348,3.486 C8.348,4.999 7.063,5.622 4.920,5.622 L4.064,5.622 M4.920,5.622 C7.206,5.622 8.491,6.334 8.491,7.936 C8.491,9.538 7.063,10.250 4.920,10.250 C3.064,10.250 1.636,9.716 1.350,8.114" fill="none" stroke="#E4812E" stroke-width="2.7" stroke-linejoin="miter" stroke-miterlimit="3" stroke-linecap="butt"/></g><rect x="288.772" y="366.844" width="3.111" height="2.956" fill="#E4812E"/><g transform="translate(292.610,358.200) scale(1.2963,1)"><path d="M5.281,1.350 L5.281,1.350 C7.639,1.350 9.211,3.130 9.211,5.800 L9.211,5.800 C9.211,8.470 7.639,10.250 5.281,10.250 L5.281,10.250 C2.922,10.250 1.350,8.470 1.350,5.800 L1.350,5.800 C1.350,3.130 2.922,1.350 5.281,1.350 Z" fill="none" stroke="#E4812E" stroke-width="2.7" stroke-linejoin="miter" stroke-miterlimit="3" stroke-linecap="butt"/></g><path d="M402.494,358.200 L405.994,358.200 L405.994,369.800 L402.494,369.800 Z M398.500,359.360 L402.694,358.200 L402.694,362.376 L398.500,362.608 Z" fill="#E4812E"/><path d="M406.733,358.200 L419.400,358.200 L419.400,361.100 L415.727,369.800 L411.702,369.800 L415.459,360.900 L406.733,360.900 Z" fill="#E4812E"/><rect x="417.817" y="366.792" width="3.167" height="3.008" fill="#E4812E"/><g transform="translate(421.722,358.200) scale(1.2963,1)"><path d="M1.495,9.004 C2.218,9.983 3.520,10.250 4.967,10.250 C7.354,10.250 8.584,8.915 8.584,5.800 L8.584,4.376 M8.584,4.376 C8.584,2.240 7.137,1.350 4.967,1.350 C2.797,1.350 1.350,2.240 1.350,3.931 C1.350,5.622 2.797,6.423 4.967,6.423 C7.137,6.423 8.584,5.622 8.584,4.020" fill="none" stroke="#E4812E" stroke-width="2.7" stroke-linejoin="miter" stroke-miterlimit="3" stroke-linecap="butt"/></g><g transform="translate(522.100,358.200) scale(1.2963,1)"><path d="M1.350,3.753 C1.622,1.973 3.052,1.350 4.755,1.350 C6.798,1.350 8.160,2.151 8.160,3.931 C8.160,5.533 6.934,6.156 5.095,6.601 C2.848,7.135 1.350,8.114 1.350,10.250 L8.160,10.250" fill="none" stroke="#E4812E" stroke-width="2.7" stroke-linejoin="miter" stroke-miterlimit="3" stroke-linecap="butt"/></g><g transform="translate(535.141,358.200) scale(1.2963,1)"><path d="M1.350,3.308 C1.698,1.795 3.092,1.350 4.834,1.350 C6.924,1.350 8.178,1.973 8.178,3.486 C8.178,4.999 6.924,5.622 4.834,5.622 L3.998,5.622 M4.834,5.622 C7.063,5.622 8.317,6.334 8.317,7.936 C8.317,9.538 6.924,10.250 4.834,10.250 C3.022,10.250 1.629,9.716 1.350,8.114" fill="none" stroke="#E4812E" stroke-width="2.7" stroke-linejoin="miter" stroke-miterlimit="3" stroke-linecap="butt"/></g><rect x="548.386" y="366.896" width="3.056" height="2.904" fill="#E4812E"/><path fill-rule="evenodd" d="M558.115,358.200 L563.016,358.200 L563.016,364.580 L565.400,364.580 L565.400,367.480 L563.016,367.480 L563.016,369.800 L559.374,369.800 L559.374,367.480 L552.155,367.480 L552.155,364.580 Z M559.374,361.100 L559.374,364.580 L555.996,364.580 Z" fill="#E4812E"/><g transform="translate(651.600,358.200) scale(1.2963,1)"><path d="M1.350,3.308 C1.701,1.795 3.106,1.350 4.862,1.350 C6.970,1.350 8.234,1.973 8.234,3.486 C8.234,4.999 6.970,5.622 4.862,5.622 L4.019,5.622 M4.862,5.622 C7.110,5.622 8.375,6.334 8.375,7.936 C8.375,9.538 6.970,10.250 4.862,10.250 C3.036,10.250 1.631,9.716 1.350,8.114" fill="none" stroke="#E4812E" stroke-width="2.7" stroke-linejoin="miter" stroke-miterlimit="3" stroke-linecap="butt"/></g><path d="M664.923,358.200 L677.222,358.200 L677.222,361.100 L673.655,369.800 L669.630,369.800 L673.279,360.900 L664.923,360.900 Z" fill="#E4812E"/><rect x="675.685" y="366.879" width="3.075" height="2.921" fill="#E4812E"/><g transform="translate(679.477,358.200) scale(1.2963,1)"><path d="M5.139,1.350 L5.139,1.350 C7.185,1.350 8.549,2.187 8.549,3.442 L8.549,3.442 C8.549,4.696 7.185,5.533 5.139,5.533 L5.139,5.533 C3.093,5.533 1.729,4.696 1.729,3.442 L1.729,3.442 C1.729,2.187 3.093,1.350 5.139,1.350 Z M5.139,5.533 L5.139,5.533 C7.412,5.533 8.928,6.476 8.928,7.892 L8.928,7.892 C8.928,9.307 7.412,10.250 5.139,10.250 L5.139,10.250 C2.866,10.250 1.350,9.307 1.350,7.892 L1.350,7.892 C1.350,6.476 2.866,5.533 5.139,5.533 Z" fill="none" stroke="#E4812E" stroke-width="2.7" stroke-linejoin="miter" stroke-miterlimit="3" stroke-linecap="butt"/></g></svg>
<span class="t h" style="left:37.28px;top:151.42px;font-size:13.4px;line-height:13.4px;font-weight:400;transform:scaleX(1.2905)">2019</span><span class="t h" style="left:35.10px;top:224.17px;font-size:13.4px;line-height:13.4px;font-weight:400;transform:scaleX(1.4296)">2020</span><span class="t h" style="left:37.80px;top:296.62px;font-size:13.4px;line-height:13.4px;font-weight:400;transform:scaleX(1.2437)">2021</span><span class="t h" style="left:35.92px;top:363.07px;font-size:13.4px;line-height:13.4px;font-weight:400;transform:scaleX(1.3850)">2022</span><span class="t h" style="left:142.58px;top:146.13px;font-size:15.0px;line-height:15.0px;font-weight:700;transform:scaleX(1.5324)">6.6</span><span class="t h" style="left:268.34px;top:146.15px;font-size:15.0px;line-height:15.0px;font-weight:700;transform:scaleX(1.2887)">12.7</span><span class="t h" style="left:397.53px;top:146.11px;font-size:15.0px;line-height:15.0px;font-weight:700;transform:scaleX(1.3139)">17.3</span><span class="t h" style="left:521.86px;top:146.12px;font-size:15.0px;line-height:15.0px;font-weight:700;transform:scaleX(1.5152)">23.4</span><span class="t h" style="left:653.81px;top:146.14px;font-size:15.0px;line-height:15.0px;font-weight:700;transform:scaleX(1.2850)">40.1</span><span class="t h" style="left:143.76px;top:218.57px;font-size:15.0px;line-height:15.0px;font-weight:700;transform:scaleX(1.3950)">7.2</span><span class="t h" style="left:268.34px;top:218.55px;font-size:15.0px;line-height:15.0px;font-weight:700;transform:scaleX(1.2887)">12.7</span><span class="t h" style="left:397.84px;top:218.57px;font-size:15.0px;line-height:15.0px;font-weight:700;transform:scaleX(1.2938)">17.2</span><span class="t h" style="left:521.96px;top:218.52px;font-size:15.0px;line-height:15.0px;font-weight:700;transform:scaleX(1.5327)">23.2</span><span class="t h" style="left:650.18px;top:218.52px;font-size:15.0px;line-height:15.0px;font-weight:700;transform:scaleX(1.5733)">39.6</span><span class="t h" style="left:143.77px;top:290.97px;font-size:15.0px;line-height:15.0px;font-weight:700;transform:scaleX(1.3879)">7.5</span><span class="t h" style="left:266.99px;top:290.98px;font-size:15.0px;line-height:15.0px;font-weight:700;transform:scaleX(1.3911)">12.9</span><span class="t h" style="left:398.35px;top:290.97px;font-size:15.0px;line-height:15.0px;font-weight:700;transform:scaleX(1.2609)">17.5</span><span class="t h" style="left:521.95px;top:290.97px;font-size:15.0px;line-height:15.0px;font-weight:700;transform:scaleX(1.5571)">23.0</span><span class="t h" style="left:654.10px;top:290.97px;font-size:15.0px;line-height:15.0px;font-weight:700;transform:scaleX(1.2748)">39.1</span><span class="t h" style="left:143.76px;top:357.13px;font-size:15.0px;line-height:15.0px;font-weight:700;transform:scaleX(1.4189)">7.9</span><span class="t h" style="left:266.47px;top:357.11px;font-size:15.0px;line-height:15.0px;font-weight:700;transform:scaleX(1.4276)">13.0</span><span class="t h" style="left:397.82px;top:357.13px;font-size:15.0px;line-height:15.0px;font-weight:700;transform:scaleX(1.3181)">17.9</span><span class="t h" style="left:521.96px;top:357.12px;font-size:15.0px;line-height:15.0px;font-weight:700;transform:scaleX(1.5117)">23.4</span><span class="t h" style="left:651.49px;top:357.12px;font-size:15.0px;line-height:15.0px;font-weight:700;transform:scaleX(1.4661)">37.8</span>
<svg width="738" height="436" viewBox="0 0 738 436" style="position:absolute;left:0;top:0"><g fill="#E2802C"><rect x="1.95" y="2.7" width="735.05" height="4"/><rect x="1.95" y="2.7" width="4" height="431.3"/><rect x="733" y="2.7" width="4" height="431.3"/><rect x="1.95" y="430.3" width="735.05" height="3.7"/></g></svg>
</body></html>
